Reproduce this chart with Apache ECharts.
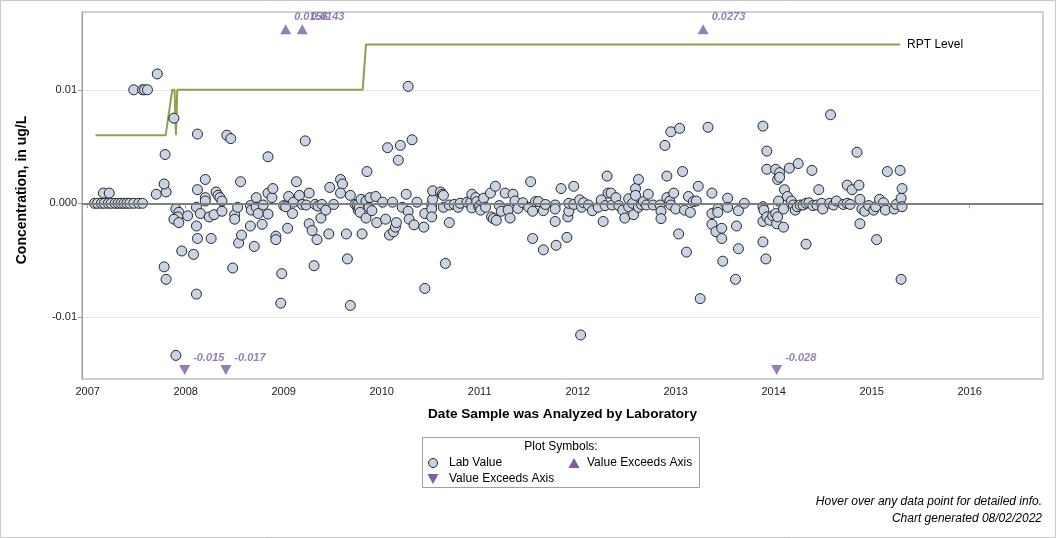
<!DOCTYPE html>
<html><head><meta charset="utf-8">
<script src="https://cdn.jsdelivr.net/npm/echarts@6/dist/echarts.min.js"></script>
<style>html,body{margin:0;padding:0;background:#fff}#c{width:1056px;height:538px}</style>
</head><body><div id="c"></div>
<script>
// ---- data: [decimal year of analysis, concentration ug/L] ----
const lab2007 = [
 [2007.07,0],[2007.10,0],[2007.14,0],[2007.17,0],[2007.21,0],[2007.24,0],[2007.28,0],[2007.31,0],[2007.34,0],[2007.37,0],[2007.40,0],[2007.43,0],[2007.47,0],[2007.52,0],[2007.56,0],
 [2007.16,0.0009],[2007.22,0.0009],
 [2007.47,0.01],[2007.56,0.01],[2007.58,0.01],[2007.61,0.01],
 [2007.71,0.0114],[2007.70,0.0008],[2007.80,0.0010],[2007.78,0.0017],[2007.79,0.0043],[2007.88,0.0075],
 [2007.78,-0.0056],[2007.80,-0.0067],[2007.90,-0.0134],
 [2007.90,-0.0005],[2007.93,-0.0008],[2007.92,-0.0012],[2007.88,-0.0014],[2007.93,-0.0017],[2007.96,-0.0042]
];
const lab2008 = [
 [2008.02,-0.0011],[2008.08,-0.0045],[2008.11,-0.008],[2008.11,-0.002],[2008.11,-0.00035],[2008.12,0.0012],[2008.12,0.0061],[2008.12,-0.0031],[2008.15,-0.0009],[2008.20,0.0021],[2008.20,0.0005],[2008.20,0.0002],[2008.24,-0.0012],[2008.26,-0.0031],[2008.29,-0.001],[2008.31,0.001],[2008.33,0.0007],[2008.35,0.0005],[2008.37,-0.0007],[2008.37,0.0002],[2008.42,0.006],[2008.46,0.0057],[2008.48,-0.0057],[2008.50,-0.001],[2008.50,-0.0014],[2008.53,-0.00035],[2008.54,-0.0035],[2008.56,0.0019],[2008.57,-0.0028],[2008.66,-0.002],[2008.66,-0.0002],[2008.67,-0.0006],[2008.70,-0.0038],[2008.72,0.0005],[2008.72,-0.00035],[2008.74,-0.0009],[2008.78,-0.00185],[2008.79,-0.00015],[2008.84,0.0009],[2008.84,-0.00095],[2008.84,0.0041],[2008.88,0.0005],[2008.89,0.0013],[2008.92,-0.0029],[2008.92,-0.0032],[2008.97,-0.0088],[2008.98,-0.0062]
];
const lab2009 = [
 [2009.00,-0.0002],[2009.02,-0.0003],[2009.04,-0.0022],[2009.05,0.0006],[2009.09,-0.0009],[2009.10,0.0001],[2009.13,0.0019],[2009.16,0.0007],[2009.19,-0.0001],[2009.22,0.0055],[2009.23,-0.00015],[2009.26,-0.0018],[2009.26,0.0009],[2009.29,-0.0024],[2009.31,-0.0055],[2009.32,-0.0001],[2009.34,-0.0032],[2009.35,-0.00025],[2009.38,-0.0013],[2009.39,-0.0001],[2009.43,-0.0006],[2009.46,-0.0027],[2009.47,0.0014],[2009.51,-0.0001],[2009.58,0.0021],[2009.60,0.0017],[2009.58,0.0009],[2009.64,-0.0027],[2009.65,-0.0049],[2009.68,0.0007],[2009.68,-0.009],[2009.73,-0.0001],[2009.75,-0.00015],[2009.76,-0.0006],[2009.77,-0.0004],[2009.78,-0.0008],[2009.79,0.00035],[2009.80,-0.0027],[2009.84,-0.0013],[2009.84,0.0002],[2009.85,0.0028],[2009.87,-0.00035],[2009.88,0.0005],[2009.90,-0.00065],[2009.94,0.0006],[2009.95,-0.0017]
];
const lab2010 = [
 [2010.01,0.0001],[2010.04,-0.0014],[2010.06,0.0049],[2010.08,-0.0028],[2010.11,0.0001],[2010.12,-0.0025],[2010.14,-0.0021],[2010.15,-0.0017],[2010.17,0.0038],[2010.19,0.0051],[2010.21,-0.00035],[2010.25,0.0008],[2010.27,-0.0007],[2010.27,0.0103],[2010.28,-0.0014],[2010.31,0.0056],[2010.33,-0.0019],[2010.36,0.0001],[2010.43,-0.0021],[2010.44,-0.0009],[2010.44,-0.0075],[2010.51,-0.0001],[2010.51,-0.0005],[2010.51,-0.0012],[2010.52,0.00035],[2010.52,0.0011],[2010.60,0.001],[2010.62,0.0008],[2010.63,0.0007],[2010.63,-0.00035],[2010.65,-0.0053],[2010.69,-0.0017],[2010.69,-0.00015],[2010.74,-0.0001],[2010.78,-0.00035],[2010.80,0],[2010.87,0.0001],[2010.91,0.0001],[2010.92,-0.0004],[2010.92,0.0008],[2010.96,0.0005],[2010.97,0.00015],[2010.99,-0.0003]
];
const lab2011 = [
 [2011.00,-0.0002],[2011.01,-0.0006],[2011.04,0.00045],[2011.06,-0.00035],[2011.11,0.0009],[2011.12,-0.0012],[2011.14,-0.00135],[2011.16,0.0015],[2011.17,-0.0015],[2011.20,-0.0002],[2011.22,-0.0007],[2011.26,0.0009],[2011.29,-0.0006],[2011.31,-0.0013],[2011.34,0.0008],[2011.36,0.0002],[2011.39,-0.00045],[2011.44,0.00005],[2011.50,-0.00035],[2011.52,0.0019],[2011.54,-0.0007],[2011.54,-0.0031],[2011.57,0.00015],[2011.60,0.00015],[2011.65,-0.00065],[2011.65,-0.0041],[2011.67,-0.0001],[2011.77,-0.00015],[2011.77,-0.0005],[2011.77,-0.0016],[2011.78,-0.0037],[2011.83,0.0013],[2011.89,-0.003],[2011.90,-0.0012],[2011.91,-0.0007],[2011.91,0],[2011.96,0.0015],[2011.96,-0.0001]
];
const lab2012 = [
 [2012.02,0.0003],[2012.03,-0.0116],[2012.04,-0.00035],[2012.06,0.00005],[2012.11,-0.00015],[2012.15,-0.00065],[2012.21,-0.00035],[2012.24,0.0003],[2012.26,-0.0016],[2012.28,-0.0002],[2012.30,0.0024],[2012.31,0.0009],[2012.35,-0.00015],[2012.34,0.0009],[2012.39,0.0005],[2012.42,-0.0002],[2012.46,-0.0006],[2012.48,-0.0013],[2012.52,-0.0003],[2012.52,0.0004],[2012.56,0],[2012.57,-0.001],[2012.59,0.0013],[2012.59,0.0007],[2012.62,0.0021],[2012.62,-0.00035],[2012.65,-0.0001],[2012.67,0.00015],[2012.70,-0.00015],[2012.72,0.0008],[2012.77,-0.00015],[2012.84,-0.00015],[2012.85,-0.0007],[2012.85,-0.00135],[2012.89,0.0051],[2012.91,0.0024],[2012.91,0.0005],[2012.94,0.0002],[2012.95,-0.00015],[2012.95,0.0063],[2012.98,0.0009]
];
const lab2013 = [
 [2013.00,-0.0005],[2013.03,-0.0027],[2013.04,0.0066],[2013.07,0.0028],[2013.09,-0.0006],[2013.11,-0.0043],[2013.13,0.0006],[2013.15,-0.0008],[2013.18,0.00015],[2013.21,0.0002],[2013.23,0.0015],[2013.25,-0.0084],[2013.33,0.0067],[2013.37,0.0009],[2013.37,-0.0009],[2013.37,-0.00185],[2013.41,-0.0025],[2013.43,-0.0005],[2013.43,-0.0008],[2013.47,-0.0022],[2013.47,-0.0031],[2013.48,-0.0051],[2013.53,0.00045],[2013.53,-0.00035],[2013.61,-0.0067],[2013.62,-0.002],[2013.64,-0.00065],[2013.64,-0.004],[2013.70,0],[2013.89,0.0068],[2013.89,-0.0003],[2013.89,-0.0016],[2013.89,-0.0034],[2013.90,-0.0006],[2013.92,-0.0049],[2013.93,-0.0012],[2013.93,0.0046],[2013.93,0.003],[2013.96,-0.0015],[2013.99,-0.0011]
];
const lab2014 = [
 [2014.02,-0.0009],[2014.02,0.003],[2014.03,-0.0018],[2014.04,0.0021],[2014.04,-0.0012],[2014.05,0.0002],[2014.06,0.0027],[2014.06,0.0023],[2014.10,-0.0005],[2014.10,-0.0021],[2014.11,0.0012],[2014.14,0.0006],[2014.16,0.0031],[2014.18,0.0002],[2014.20,-0.00015],[2014.22,-0.0006],[2014.24,-0.0003],[2014.25,0.0035],[2014.27,-0.00015],[2014.30,-0.00015],[2014.33,-0.0036],[2014.33,0],[2014.36,0.00005],[2014.39,0.0029],[2014.40,-0.0002],[2014.44,-0.00015],[2014.46,0.0012],[2014.49,0],[2014.50,-0.0005],[2014.57,0],[2014.58,0.0078],[2014.61,-0.00015],[2014.64,0.0002],[2014.71,-0.0001],[2014.75,0],[2014.75,0.0016],[2014.78,-0.0001],[2014.80,0.0012],[2014.85,0.0045],[2014.87,0.0016],[2014.88,0.00035],[2014.88,-0.0018],[2014.90,-0.0005],[2014.93,-0.0007],[2014.97,-0.0002]
];
const lab2015 = [
 [2015.02,-0.0006],[2015.04,-0.0003],[2015.05,-0.0032],[2015.08,0.00035],[2015.12,0.00005],[2015.14,-0.0006],[2015.16,0.0028],[2015.23,-0.0005],[2015.25,-0.0001],[2015.30,0.00045],[2015.30,-0.0067],[2015.29,0.0029],[2015.31,-0.0003],[2015.31,0.0013]
];
// reporting level line
const rptDates  = [2007.08, 2007.796, 2007.863, 2007.886, 2007.901, 2007.914, 2009.806, 2009.84, 2015.29];
const rptValues = [0.006, 0.006, 0.01, 0.01, 0.006, 0.01, 0.01, 0.014, 0.014];
// values beyond the axis range
const upDates = [2009.02, 2009.19, 2013.28];
const upValues = [0.0156, 0.0143, 0.0273];
const downDates = [2007.99, 2008.41, 2014.03];
const downValues = [-0.015, -0.017, -0.028];
// ticks
const xTickYears = [2007, 2008, 2009, 2010, 2011, 2012, 2013, 2014, 2015, 2016];
const yTickValues = [-0.01, 0, 0.01];
const yTickLabels = ['-0.01', '0.000', '0.01'];

// ---- chart ----
const X_MIN = 2006.942, X_MAX = 2016.748;
const Y_MIN = -0.01548, Y_MAX = 0.016855;
const UP_LEVEL = Y_MAX - 0.00153, DOWN_LEVEL = Y_MIN + 0.00079;
const PURPLE = '#7b5ea6';
const SANS = "'Liberation Sans',Arial,sans-serif";

const labData = [].concat(lab2007, lab2008, lab2009, lab2010, lab2011, lab2012, lab2013, lab2014, lab2015);
const rptData = rptDates.map((d, i) => [d, rptValues[i]]);
const upData = upDates.map((d, i) => [d, UP_LEVEL, upValues[i]]);
const downData = downDates.map((d, i) => [d, DOWN_LEVEL, downValues[i]]);

const exceedLabel = {
  show: true, position: 'right', distance: 3, offset: [0, -12],
  formatter: p => String(p.value[2]),
  color: PURPLE, fontStyle: 'italic', fontWeight: 'bold', fontSize: 11, fontFamily: SANS
};

const chart = echarts.init(document.getElementById('c'), null, { renderer: 'canvas' });
chart.setOption({
  animation: false,
  backgroundColor: '#fff',
  grid: { left: 82, right: 13, top: 12, bottom: 159, show: true, borderColor: '#a0a0a0', borderWidth: 1, backgroundColor: '#fff' },
  xAxis: {
    type: 'value', min: X_MIN, max: X_MAX, minInterval: 1, maxInterval: 1,
    name: 'Date Sample was Analyzed by Laboratory', nameLocation: 'middle', nameGap: 28,
    nameTextStyle: { fontFamily: SANS, fontWeight: 'bold', fontSize: 13.6, color: '#000' },
    axisLine: { lineStyle: { color: '#a0a0a0', width: 1 } },
    axisTick: { show: true, length: 5, lineStyle: { color: '#a0a0a0' }, customValues: xTickYears },
    axisLabel: { customValues: xTickYears, formatter: v => String(Math.round(v)), fontFamily: SANS, fontSize: 11, color: '#222', margin: 7 },
    splitLine: { show: false }
  },
  yAxis: {
    type: 'value', min: Y_MIN, max: Y_MAX, minInterval: 0.01, maxInterval: 0.01,
    name: 'Concentration, in ug/L', nameLocation: 'middle', nameGap: 53,
    nameTextStyle: { fontFamily: SANS, fontWeight: 'bold', fontSize: 14, color: '#000', padding: [0, 0, 0, 11] },
    axisLine: { show: true, lineStyle: { color: '#a0a0a0', width: 1 } },
    axisTick: { show: true, length: 4, lineStyle: { color: '#a0a0a0' }, customValues: yTickValues },
    axisLabel: {
      customValues: yTickValues,
      formatter: v => { const i = yTickValues.findIndex(t => Math.abs(t - v) < 1e-9); return i >= 0 ? yTickLabels[i] : ''; },
      fontFamily: SANS, fontSize: 11, color: '#222', margin: 5
    },
    splitLine: { show: true, lineStyle: { color: '#e6e6e6', width: 1 } }
  },
  series: [
    {
      type: 'line', name: 'zero', data: [], z: 1, silent: true,
      markLine: { silent: true, symbol: ['none', 'none'], label: { show: false },
        lineStyle: { color: '#7f7f7f', width: 2, type: 'solid' }, data: [{ yAxis: 0 }] }
    },
    {
      type: 'line', name: 'RPT Level', data: rptData, z: 2, showSymbol: false, silent: true,
      lineStyle: { color: '#8aa24a', width: 2 },
      endLabel: { show: true, formatter: 'RPT Level', color: '#000', fontSize: 12, fontFamily: SANS, distance: 7 }
    },
    {
      type: 'scatter', name: 'Lab Value', data: labData, z: 3, symbol: 'circle', symbolSize: 10,
      itemStyle: { color: '#c8d4e4', borderColor: '#262626', borderWidth: 1, opacity: 1 }
    },
    {
      type: 'scatter', name: 'Value Exceeds Axis (high)', data: upData, z: 4, symbol: 'triangle', symbolSize: [11, 10],
      itemStyle: { color: PURPLE }, label: exceedLabel
    },
    {
      type: 'scatter', name: 'Value Exceeds Axis (low)', data: downData, z: 4, symbol: 'triangle', symbolRotate: 180, symbolSize: [11, 10],
      itemStyle: { color: PURPLE }, label: exceedLabel
    }
  ],
  graphic: [
    { type: 'rect', shape: { x: 0.5, y: 0.5, width: 1055, height: 537 }, style: { fill: 'none', stroke: '#c8c8c8', lineWidth: 1 }, silent: true, z: -10 },
    { type: 'rect', shape: { x: 422.5, y: 437.5, width: 277, height: 50 }, style: { fill: '#fff', stroke: '#a0a0a0', lineWidth: 1 }, silent: true },
    { type: 'text', x: 561, y: 447, silent: true, style: { text: 'Plot Symbols:', align: 'center', verticalAlign: 'middle', font: '12px ' + SANS, fill: '#000' } },
    { type: 'circle', shape: { cx: 433, cy: 463, r: 4.5 }, silent: true, style: { fill: '#c8d4e4', stroke: '#262626', lineWidth: 1 } },
    { type: 'text', x: 449, y: 463, silent: true, style: { text: 'Lab Value', align: 'left', verticalAlign: 'middle', font: '12px ' + SANS, fill: '#000' } },
    { type: 'polygon', shape: { points: [[574, 458], [579.5, 468], [568.5, 468]] }, silent: true, style: { fill: PURPLE } },
    { type: 'text', x: 587, y: 463, silent: true, style: { text: 'Value Exceeds Axis', align: 'left', verticalAlign: 'middle', font: '12px ' + SANS, fill: '#000' } },
    { type: 'polygon', shape: { points: [[427.5, 474], [438.5, 474], [433, 484]] }, silent: true, style: { fill: PURPLE } },
    { type: 'text', x: 449, y: 479, silent: true, style: { text: 'Value Exceeds Axis', align: 'left', verticalAlign: 'middle', font: '12px ' + SANS, fill: '#000' } },
    { type: 'text', x: 1042, y: 502, silent: true, style: { text: 'Hover over any data point for detailed info.', align: 'right', verticalAlign: 'middle', font: 'italic 12px ' + SANS, fill: '#000' } },
    { type: 'text', x: 1042, y: 519, silent: true, style: { text: 'Chart generated 08/02/2022', align: 'right', verticalAlign: 'middle', font: 'italic 12px ' + SANS, fill: '#000' } }
  ]
});
</script></body></html>
